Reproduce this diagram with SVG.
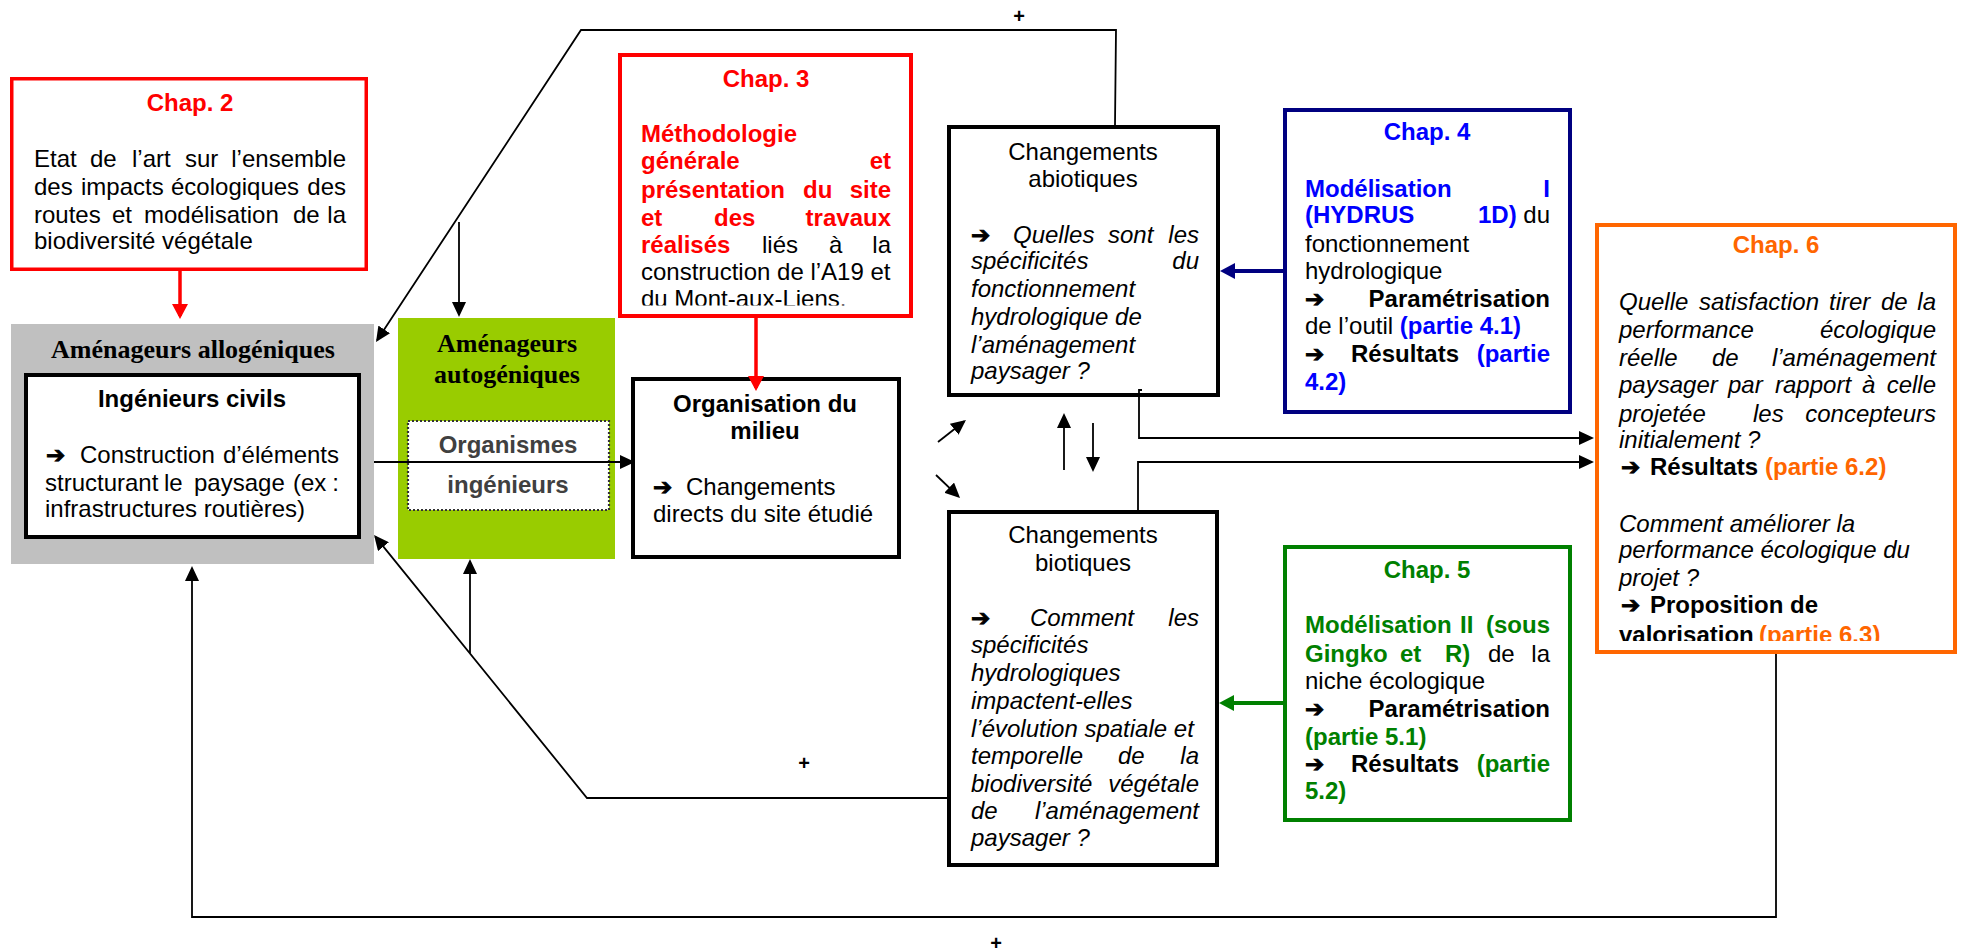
<svg xmlns="http://www.w3.org/2000/svg" width="1961" height="952" viewBox="0 0 1961 952">
<style>
.t{font-family:"Liberation Sans",Arial,sans-serif;font-size:24px;fill:#000}
.b{font-weight:bold}
.i{font-style:italic}
.tb{font-family:"Liberation Serif","Times New Roman",serif;font-weight:bold;font-size:26px;fill:#000}
.ar{font-family:"DejaVu Sans",sans-serif;font-style:normal;font-weight:bold;font-size:23px;fill:#000;stroke:#000;stroke-width:0.9}
.red{fill:#FF0000}.blue{fill:#0000FF}.grn{fill:#008000}.org{fill:#FF6600}.blk{fill:#000;font-weight:normal}
.plus{font-family:"Liberation Sans",Arial,sans-serif;font-size:20px;font-weight:bold;fill:#000}
.box{fill:#fff;stroke:#000;stroke-width:4}
.con{fill:none;stroke:#000;stroke-width:1.8}
</style>
<defs>
<marker id="ah" markerUnits="userSpaceOnUse" markerWidth="16" markerHeight="14" refX="13" refY="7" orient="auto"><path d="M0,0 L15,7 L0,14 z" fill="#000"/></marker>
<marker id="ahr" markerUnits="userSpaceOnUse" markerWidth="16" markerHeight="16" refX="12" refY="8" orient="auto"><path d="M0,0 L15,8 L0,16 z" fill="#FF0000"/></marker>
<marker id="ahn" markerUnits="userSpaceOnUse" markerWidth="16" markerHeight="16" refX="11" refY="8" orient="auto"><path d="M0,0 L15,8 L0,16 z" fill="#000080"/></marker>
<marker id="ahg" markerUnits="userSpaceOnUse" markerWidth="16" markerHeight="16" refX="11" refY="8" orient="auto"><path d="M0,0 L15,8 L0,16 z" fill="#008000"/></marker>
<clipPath id="c3"><rect x="600" y="40" width="330" height="265.5"/></clipPath>
<clipPath id="c6"><rect x="1590" y="590" width="370" height="51"/></clipPath>
</defs>

<g id="chap2">
<rect x="11.75" y="78.75" width="354.5" height="190.5" fill="#fff" stroke="#FF0000" stroke-width="3.5"/>
<text class="t b red" x="190" y="111" text-anchor="middle">Chap. 2</text>
<text class="t" y="167"><tspan x="34">Etat</tspan><tspan x="90">de</tspan><tspan x="132">l’art</tspan><tspan x="185">sur</tspan><tspan x="346" text-anchor="end">l’ensemble</tspan></text>
<text class="t" y="195"><tspan x="34">des</tspan><tspan x="81">impacts</tspan><tspan x="171">écologiques</tspan><tspan x="346" text-anchor="end">des</tspan></text>
<text class="t" y="223"><tspan x="34">routes</tspan><tspan x="112">et</tspan><tspan x="144">modélisation</tspan><tspan x="293">de</tspan><tspan x="346" text-anchor="end">la</tspan></text>
<text class="t" x="34" y="249">biodiversité végétale</text>
</g>

<g id="allogeniques">
<rect x="11" y="324" width="363" height="240" fill="#C0C0C0"/>
<text class="tb" x="193" y="358" text-anchor="middle">Aménageurs allogéniques</text>
</g>

<g id="ingenieurs-civils">
<rect class="box" x="26" y="375" width="333" height="162"/>
<text class="t b" x="192" y="407" text-anchor="middle">Ingénieurs civils</text>
<text class="t" y="463"><tspan x="46" class="ar">➔</tspan><tspan x="80">Construction</tspan><tspan x="339" text-anchor="end">d’éléments</tspan></text>
<text class="t" y="491"><tspan x="45">structurant</tspan><tspan x="164">le</tspan><tspan x="194">paysage</tspan><tspan x="293">(ex</tspan><tspan x="339" text-anchor="end">:</tspan></text>
<text class="t" x="45" y="517">infrastructures routières)</text>
</g>

<g id="autogeniques">
<rect x="398" y="318" width="217" height="241" fill="#99CC00"/>
<text class="tb" x="507" y="352" text-anchor="middle">Aménageurs</text>
<text class="tb" x="507" y="383" text-anchor="middle">autogéniques</text>
</g>

<g id="organismes-ingenieurs">
<rect x="408" y="421" width="201" height="89" fill="#fff" stroke="#333" stroke-width="2.2" stroke-dasharray="2 2"/>
<text class="t b" x="508" y="453" text-anchor="middle" style="fill:#404040">Organismes</text>
<text class="t b" x="508" y="493" text-anchor="middle" style="fill:#404040">ingénieurs</text>
</g>

<g id="chap3">
<rect x="620" y="55" width="291" height="261" fill="#fff" stroke="#FF0000" stroke-width="4"/>
<text class="t b red" x="766" y="87" text-anchor="middle">Chap. 3</text>
<text class="t b red" x="641" y="142">Méthodologie</text>
<text class="t b red" y="169"><tspan x="641">générale</tspan><tspan x="891" text-anchor="end">et</tspan></text>
<text class="t b red" y="198"><tspan x="641">présentation</tspan><tspan x="803">du</tspan><tspan x="891" text-anchor="end">site</tspan></text>
<text class="t b red" y="226"><tspan x="641">et</tspan><tspan x="714">des</tspan><tspan x="891" text-anchor="end">travaux</tspan></text>
<text class="t" y="253"><tspan x="641" class="b red">réalisés</tspan><tspan x="762">liés</tspan><tspan x="829">à</tspan><tspan x="891" text-anchor="end">la</tspan></text>
<text class="t" x="641" y="280">construction de l’A19 et</text>
<text class="t" x="641" y="307" clip-path="url(#c3)">du Mont-aux-Liens.</text>
</g>

<g id="organisation-milieu">
<rect class="box" x="633" y="379" width="266" height="178"/>
<text class="t b" x="765" y="412" text-anchor="middle">Organisation du</text>
<text class="t b" x="765" y="439" text-anchor="middle">milieu</text>
<text class="t" y="495"><tspan x="653" class="ar">➔</tspan><tspan x="686">Changements</tspan></text>
<text class="t" x="653" y="522">directs du site étudié</text>
</g>

<g id="changements-abiotiques">
<rect class="box" x="949" y="127" width="269" height="268"/>
<text class="t" x="1083" y="160" text-anchor="middle">Changements</text>
<text class="t" x="1083" y="187" text-anchor="middle">abiotiques</text>
<text class="t i" y="243"><tspan x="971" class="ar">➔</tspan><tspan x="1013">Quelles</tspan><tspan x="1108">sont</tspan><tspan x="1199" text-anchor="end">les</tspan></text>
<text class="t i" y="269"><tspan x="971">spécificités</tspan><tspan x="1199" text-anchor="end">du</tspan></text>
<text class="t i" x="971" y="297">fonctionnement</text>
<text class="t i" x="971" y="325">hydrologique de</text>
<text class="t i" x="971" y="353">l’aménagement</text>
<text class="t i" x="971" y="379">paysager ?</text>
</g>

<g id="changements-biotiques">
<rect class="box" x="949" y="512" width="268" height="353"/>
<text class="t" x="1083" y="543" text-anchor="middle">Changements</text>
<text class="t" x="1083" y="571" text-anchor="middle">biotiques</text>
<text class="t i" y="626"><tspan x="971" class="ar">➔</tspan><tspan x="1030">Comment</tspan><tspan x="1199" text-anchor="end">les</tspan></text>
<text class="t i" x="971" y="653">spécificités</text>
<text class="t i" x="971" y="681">hydrologiques</text>
<text class="t i" x="971" y="709">impactent-elles</text>
<text class="t i" x="971" y="737">l’évolution spatiale et</text>
<text class="t i" y="764"><tspan x="971">temporelle</tspan><tspan x="1118">de</tspan><tspan x="1199" text-anchor="end">la</tspan></text>
<text class="t i" y="792"><tspan x="971">biodiversité</tspan><tspan x="1199" text-anchor="end">végétale</tspan></text>
<text class="t i" y="819"><tspan x="971">de</tspan><tspan x="1199" text-anchor="end">l’aménagement</tspan></text>
<text class="t i" x="971" y="846">paysager ?</text>
</g>

<g id="chap4">
<rect x="1285" y="110" width="285" height="302" fill="#fff" stroke="#000080" stroke-width="4"/>
<text class="t b blue" x="1427" y="140" text-anchor="middle">Chap. 4</text>
<text class="t b blue" y="197"><tspan x="1305">Modélisation</tspan><tspan x="1550" text-anchor="end">I</tspan></text>
<text class="t b blue" y="223"><tspan x="1305">(HYDRUS</tspan><tspan x="1478">1D)</tspan><tspan x="1550" text-anchor="end" class="blk">du</tspan></text>
<text class="t" x="1305" y="252">fonctionnement</text>
<text class="t" x="1305" y="279">hydrologique</text>
<text class="t b" y="307"><tspan x="1305" class="ar">➔</tspan><tspan x="1550" text-anchor="end">Paramétrisation</tspan></text>
<text class="t" x="1305" y="334">de l’outil <tspan class="b blue">(partie 4.1)</tspan></text>
<text class="t b" y="362"><tspan x="1305" class="ar">➔</tspan><tspan x="1351">Résultats</tspan><tspan x="1550" text-anchor="end" class="blue">(partie</tspan></text>
<text class="t b blue" x="1305" y="390">4.2)</text>
</g>

<g id="chap5">
<rect x="1285" y="547" width="285" height="273" fill="#fff" stroke="#008000" stroke-width="4"/>
<text class="t b grn" x="1427" y="578" text-anchor="middle">Chap. 5</text>
<text class="t b grn" y="633"><tspan x="1305">Modélisation</tspan><tspan x="1460">II</tspan><tspan x="1550" text-anchor="end">(sous</tspan></text>
<text class="t b grn" y="662"><tspan x="1305">Gingko</tspan><tspan x="1400">et</tspan><tspan x="1445">R)</tspan><tspan x="1488" class="blk">de</tspan><tspan x="1550" text-anchor="end" class="blk">la</tspan></text>
<text class="t" x="1305" y="689">niche écologique</text>
<text class="t b" y="717"><tspan x="1305" class="ar">➔</tspan><tspan x="1550" text-anchor="end">Paramétrisation</tspan></text>
<text class="t b grn" x="1305" y="745">(partie 5.1)</text>
<text class="t b" y="772"><tspan x="1305" class="ar">➔</tspan><tspan x="1351">Résultats</tspan><tspan x="1550" text-anchor="end" class="grn">(partie</tspan></text>
<text class="t b grn" x="1305" y="799">5.2)</text>
</g>

<g id="chap6">
<rect x="1597" y="225" width="358" height="427" fill="#fff" stroke="#FF6600" stroke-width="4"/>
<text class="t b org" x="1776" y="253" text-anchor="middle">Chap. 6</text>
<text class="t i" y="310"><tspan x="1619">Quelle</tspan><tspan x="1699">satisfaction</tspan><tspan x="1829">tirer</tspan><tspan x="1881">de</tspan><tspan x="1936" text-anchor="end">la</tspan></text>
<text class="t i" y="338"><tspan x="1619">performance</tspan><tspan x="1936" text-anchor="end">écologique</tspan></text>
<text class="t i" y="366"><tspan x="1619">réelle</tspan><tspan x="1712">de</tspan><tspan x="1936" text-anchor="end">l’aménagement</tspan></text>
<text class="t i" y="393"><tspan x="1619">paysager</tspan><tspan x="1728">par</tspan><tspan x="1775">rapport</tspan><tspan x="1862">à</tspan><tspan x="1936" text-anchor="end">celle</tspan></text>
<text class="t i" y="422"><tspan x="1619">projetée</tspan><tspan x="1753">les</tspan><tspan x="1936" text-anchor="end">concepteurs</tspan></text>
<text class="t i" x="1619" y="448">initialement ?</text>
<text class="t b" y="475"><tspan x="1621" class="ar">➔</tspan><tspan x="1650">Résultats</tspan><tspan x="1765" class="org">(partie 6.2)</tspan></text>
<text class="t i" x="1619" y="532">Comment améliorer la</text>
<text class="t i" x="1619" y="558">performance écologique du</text>
<text class="t i" x="1619" y="586">projet ?</text>
<text class="t b" y="613"><tspan x="1621" class="ar">➔</tspan><tspan x="1650">Proposition de</tspan></text>
<text class="t b" y="643" clip-path="url(#c6)"><tspan x="1619">valorisation</tspan><tspan x="1759" class="org">(partie 6.3)</tspan></text>
</g>

<g id="connectors">
<path d="M180,271 V316" fill="none" stroke="#FF0000" stroke-width="3.5" marker-end="url(#ahr)"/>
<path d="M756,318 V388" fill="none" stroke="#FF0000" stroke-width="3.5" marker-end="url(#ahr)"/>
<path class="con" d="M1115,125 L1116,30 L581,30 L377.1,340.3" marker-end="url(#ah)"/>
<path class="con" d="M459,222 V315" marker-end="url(#ah)"/>
<path class="con" d="M374,462 H633" marker-end="url(#ah)"/>
<path class="con" d="M938,442 L964.4,421.2" marker-end="url(#ah)"/>
<path class="con" d="M936,475 L958.6,496.6" marker-end="url(#ah)"/>
<path class="con" d="M1064,470 V415" marker-end="url(#ah)"/>
<path class="con" d="M1093,423 V470" marker-end="url(#ah)"/>
<path d="M1283,271 H1224" fill="none" stroke="#000080" stroke-width="4" marker-end="url(#ahn)"/>
<path d="M1283,703 H1223" fill="none" stroke="#008000" stroke-width="4" marker-end="url(#ahg)"/>
<path class="con" d="M1142,390 H1139 V438 H1592" marker-end="url(#ah)"/>
<path class="con" d="M1138,510 V462 H1592" marker-end="url(#ah)"/>
<path class="con" d="M947,798 H587 L375.3,536.6" marker-end="url(#ah)"/>
<path class="con" d="M470,653 V561" marker-end="url(#ah)"/>
<path class="con" d="M1776,654 V917 H192 V568" marker-end="url(#ah)" stroke-width="2.2"/>
<text class="plus" x="1019" y="23" text-anchor="middle">+</text>
<text class="plus" x="804" y="770" text-anchor="middle">+</text>
<text class="plus" x="996" y="950" text-anchor="middle">+</text>
</g>
</svg>
